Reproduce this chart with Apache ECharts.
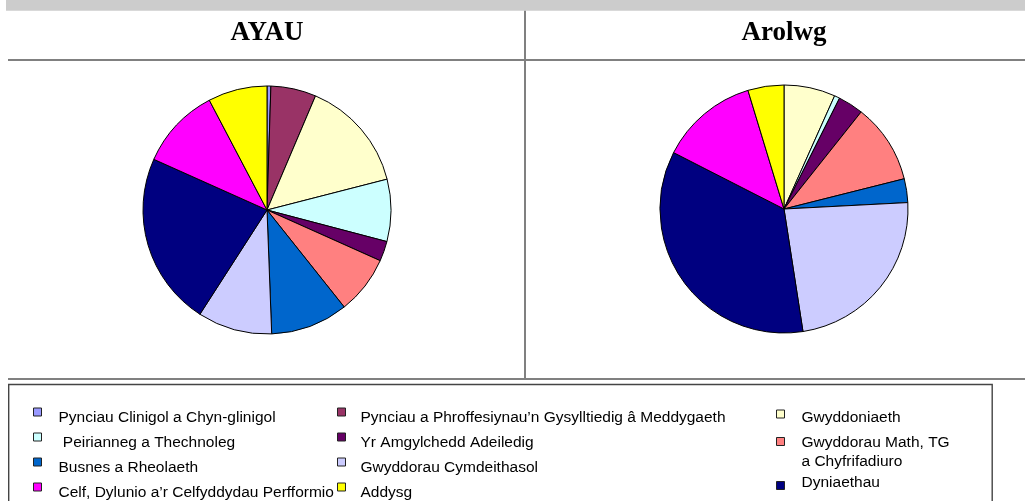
<!DOCTYPE html>
<html>
<head>
<meta charset="utf-8">
<script src="https://cdn.jsdelivr.net/npm/echarts@6/dist/echarts.min.js"></script>
<style>
html,body{margin:0;padding:0;background:#fff;}
#chart{width:1025px;height:501px;}
</style>
</head>
<body>
<div id="chart"></div>
<script>
const categories = [
  'Pynciau Clinigol a Chyn-glinigol',
  'Pynciau a Phroffesiynau’n Gysylltiedig â Meddygaeth',
  'Gwyddoniaeth',
  ' Peirianneg a Thechnoleg',
  'Yr Amgylchedd Adeiledig',
  'Gwyddorau Math, TG a Chyfrifadiuro',
  'Busnes a Rheolaeth',
  'Gwyddorau Cymdeithasol',
  'Dyniaethau',
  'Celf, Dylunio a’r Celfyddydau Perfformio',
  'Addysg'
];
const ayauValues   = [0.5, 5.9, 14.6, 8.1, 2.6, 7.6, 10.1, 9.7, 22.6, 10.6, 7.7];
const arolwgValues = [0, 0, 6.7, 0.7, 3.3, 10.4, 3.1, 23.4, 35.0, 12.8, 4.7];
const colors = ['#9999FF','#993366','#FFFFCC','#CCFFFF','#660066','#FF8080','#0066CC','#CCCCFF','#000080','#FF00FF','#FFFF00'];
const titles = ['AYAU', 'Arolwg'];

// legend layout: [markerX, markerCenterY, textX, textCenterY(first line), lines]
const legendLayout = [
  [33, 411.5, 58, 417, 1],
  [337, 411.5, 360, 417, 1],
  [776, 414, 801, 418, 1],
  [33, 436.5, 58, 442, 1],
  [337, 436.5, 360, 442, 1],
  [776, 441.5, 801, 443, 2],
  [33, 461.5, 58, 467, 1],
  [337, 461.5, 360, 467, 1],
  [776, 485.5, 801, 483, 1],
  [33, 486.5, 58, 492, 1],
  [337, 486.5, 360, 492, 1]
];
const legendLabel = {
  'Gwyddorau Math, TG a Chyfrifadiuro': 'Gwyddorau Math, TG\na Chyfrifadiuro'
};

function makeLegend(name, lay) {
  const [mx, mcy, tx, tcy, lines] = lay;
  const L = 19, S = 8;
  const blockCenter = tcy + (lines - 1) * L / 2;
  const d = blockCenter - mcy;
  const ad = Math.abs(d);
  const ih = S + 2 * ad;
  let path;
  if (d >= 0) {
    path = 'path://M0,0L' + S + ',0L' + S + ',' + S + 'L0,' + S + 'Z M0,' + ih + 'L0.001,' + ih;
  } else {
    path = 'path://M0,0L0.001,0 M0,' + (2 * ad) + 'L' + S + ',' + (2 * ad) + 'L' + S + ',' + ih + 'L0,' + ih + 'Z';
  }
  const iconTop = d >= 0 ? mcy - S / 2 : mcy - S / 2 - 2 * ad;
  const textTop = blockCenter - lines * L / 2;
  const top = Math.min(iconTop, textTop);
  return {
    data: [name],
    left: mx,
    top: top,
    orient: 'vertical',
    padding: 0,
    itemWidth: S,
    itemHeight: ih,
    icon: path,
    selectedMode: false,
    formatter: n => legendLabel[n] || n,
    itemStyle: { borderColor: '#222', borderWidth: 1 },
    textStyle: {
      fontFamily: 'Liberation Sans, Arial, sans-serif',
      fontSize: 15.5,
      lineHeight: L,
      color: '#000',
      padding: [0, 0, 0, tx - (mx + S + 5)]
    }
  };
}

const chart = echarts.init(document.getElementById('chart'), null, { renderer: 'canvas' });

function pieData(values) {
  return categories.map((c, i) => ({ name: c, value: values[i], itemStyle: { color: colors[i] } }));
}

const pieCommon = {
  type: 'pie',
  radius: 124,
  startAngle: 90,
  clockwise: true,
  label: { show: false },
  labelLine: { show: false },
  emphasis: { disabled: true },
  silent: true,
  animation: false,
  itemStyle: { borderColor: '#000', borderWidth: 1 }
};

const pieCenters = [[267, 210], [784, 209]];

chart.setOption({
  backgroundColor: '#ffffff',
  animation: false,
  legend: categories.map((c, i) => makeLegend(c, legendLayout[i])),
  graphic: [
    { type: 'rect', shape: { x: 6, y: 0, width: 1019, height: 10.7 }, style: { fill: '#cccccc' }, silent: true },
    { type: 'rect', shape: { x: 8, y: 59, width: 1017, height: 2 }, style: { fill: '#808080' }, silent: true },
    { type: 'rect', shape: { x: 8, y: 378, width: 1017, height: 2 }, style: { fill: '#808080' }, silent: true },
    { type: 'rect', shape: { x: 524, y: 10.7, width: 2, height: 369 }, style: { fill: '#808080' }, silent: true },
    { type: 'rect', shape: { x: 8.7, y: 384.5, width: 983.5, height: 140 }, style: { fill: 'none', stroke: '#444444', lineWidth: 1.4 }, silent: true },
    { type: 'text', x: pieCenters[0][0], y: 33, style: { text: titles[0], align: 'center', verticalAlign: 'middle', fontFamily: 'Liberation Serif, serif', fontWeight: 'bold', fontSize: 27, fill: '#000' }, silent: true },
    { type: 'text', x: pieCenters[1][0], y: 33, style: { text: titles[1], align: 'center', verticalAlign: 'middle', fontFamily: 'Liberation Serif, serif', fontWeight: 'bold', fontSize: 27, fill: '#000' }, silent: true }
  ],
  series: [
    Object.assign({}, pieCommon, { name: titles[0], center: pieCenters[0], data: pieData(ayauValues) }),
    Object.assign({}, pieCommon, { name: titles[1], center: pieCenters[1], data: pieData(arolwgValues) })
  ]
});
</script>
</body>
</html>
